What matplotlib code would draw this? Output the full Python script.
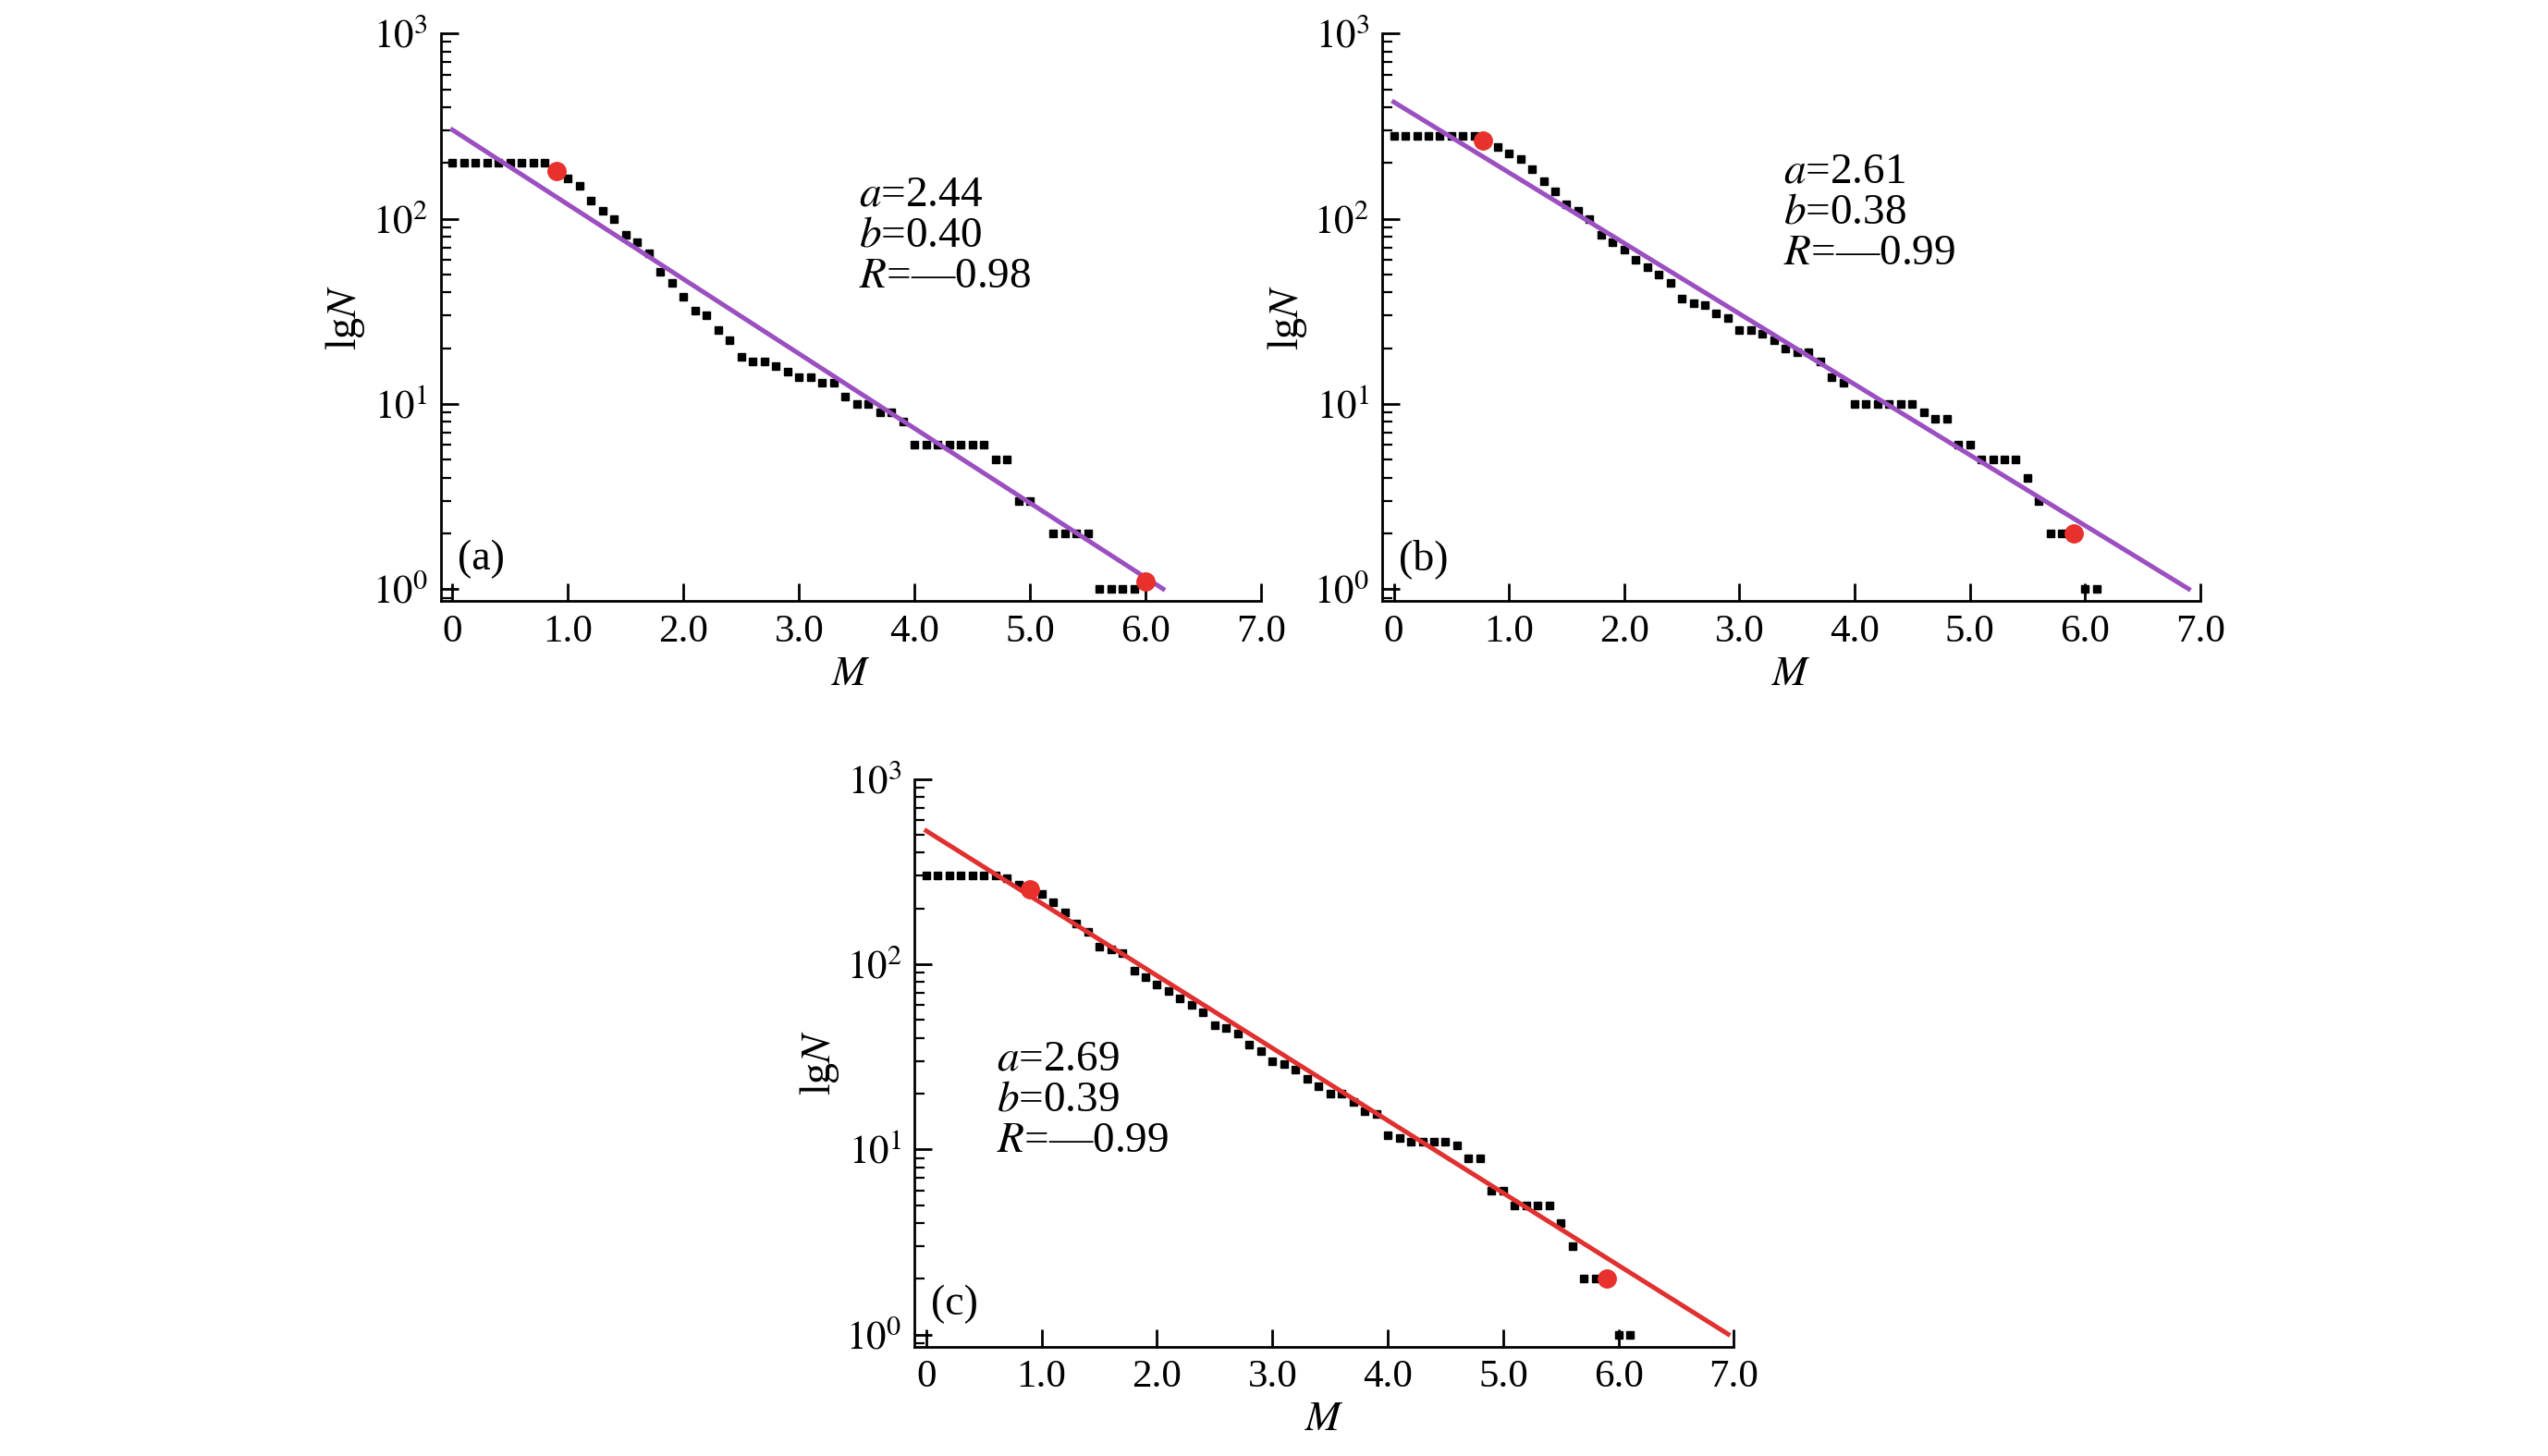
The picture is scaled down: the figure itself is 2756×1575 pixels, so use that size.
import numpy as np
import matplotlib
matplotlib.use("Agg")
import matplotlib.pyplot as plt
from matplotlib.ticker import LogLocator, NullFormatter, FixedLocator

plt.rcParams['font.family'] = ['Liberation Serif', 'DejaVu Serif']
plt.rcParams['mathtext.fontset'] = 'stix'

M_a = [round(0.1 * i, 1) for i in range(0, 51)] + [5.2, 5.3, 5.4, 5.5, 5.6, 5.7, 5.8, 5.9, 6.0]
N_a = [200]*9 + [180, 165, 150, 125, 110, 100, 82, 75, 65, 52, 45, 38, 32, 30, 25, 22,
       18, 17, 17, 16, 15, 14, 14, 13, 13, 11, 10, 10, 9, 9, 8,
       6, 6, 6, 6, 6, 6, 6, 5, 5, 3, 3] + [2, 2, 2, 2, 1, 1, 1, 1, 1.1]
red_a_M = [0.9, 6.0]; red_a_N = [180, 1.1]

M_b = [round(0.1 * i, 1) for i in range(0, 62)]
N_b = [280]*8 + [265, 245, 225, 210, 185, 160, 140, 120, 110, 100, 82, 75, 68, 60, 55, 50, 45,
       37, 35, 34, 31, 29, 25, 25, 24, 22, 20, 19, 19, 17, 14, 13,
       10, 10, 10, 10, 10, 10, 9, 8.3, 8.3, 6, 6, 5, 5, 5, 5, 4, 3, 2, 2, 2, 1, 1]
red_b_M = [0.77, 5.9]; red_b_N = [265, 2.0]

M_c = [round(0.1 * i, 1) for i in range(0, 62)]
N_c = [300]*7 + [290, 270, 255, 240, 215, 190, 165, 150, 125, 120, 115, 92, 85, 78, 72, 65, 60, 55,
       47, 45, 42, 37, 34, 30, 29, 27, 24, 22, 20, 20, 18, 16, 15.5,
       12, 11.5, 11, 11, 11, 11, 10.5, 9, 9, 6, 6, 5, 5, 5, 5, 4, 3, 2, 2, 2, 1, 1]
red_c_M = [0.9, 5.9]; red_c_N = [255, 2.0]

fit_intercept = [2.48, 2.63, 2.72]
fit_slope = [0.403, 0.381, 0.391]
fit_end = [6.15, 6.9, 6.95]
labels = ['(a)', '(b)', '(c)']
params = [('2.44', '0.40', '0.98'), ('2.61', '0.38', '0.99'), ('2.69', '0.39', '0.99')]
line_colors = ['#9B4FC0', '#9B4FC0', '#E0302F']

fig = plt.figure(figsize=(27.56, 15.75), dpi=100)
rects = [[0.173, 0.587, 0.322, 0.390], [0.5425, 0.587, 0.321, 0.390], [0.359, 0.075, 0.3215, 0.390]]
datas = [(M_a, N_a, red_a_M, red_a_N), (M_b, N_b, red_b_M, red_b_N), (M_c, N_c, red_c_M, red_c_N)]
text_pos = [(0.51, 0.75), (0.49, 0.79), (0.10, 0.54)]

for i in range(3):
    ax = fig.add_axes(rects[i])
    M, N, rM, rN = datas[i]
    ax.plot(M, N, 's', color='black', markersize=5.5, zorder=2)
    xs = np.array([0.0, fit_end[i]])
    ax.plot(xs, 10 ** (fit_intercept[i] - fit_slope[i] * xs), '-', color=line_colors[i], lw=3.6, zorder=3)
    ax.plot(rM, rN, 'o', color='#E8302C', markersize=14, zorder=4)
    ax.set_yscale('log')
    ax.set_ylim(0.86, 1000)
    ax.set_xlim(-0.1, 7.0)
    ax.xaxis.set_major_locator(FixedLocator([0, 1, 2, 3, 4, 5, 6, 7]))
    ax.set_xticklabels(['0', '1.0', '2.0', '3.0', '4.0', '5.0', '6.0', '7.0'])
    ax.yaxis.set_major_locator(FixedLocator([1, 10, 100, 1000]))
    ax.set_yticklabels([r'$10^0$', r'$10^1$', r'$10^2$', r'$10^3$'])
    ax.yaxis.set_minor_locator(LogLocator(base=10, subs=np.arange(2, 10)))
    ax.yaxis.set_minor_formatter(NullFormatter())
    for s in ['top', 'right']:
        ax.spines[s].set_visible(False)
    for s in ['left', 'bottom']:
        ax.spines[s].set_linewidth(2)
    ax.tick_params(which='major', direction='in', length=14, width=2, labelsize=31, pad=10)
    ax.tick_params(which='minor', direction='in', length=8, width=1.6)
    ax.set_xlabel('$M$', fontsize=33, labelpad=4)
    ax.set_ylabel(r'lg$N$', fontsize=33, labelpad=4)
    ax.text(0.02, 0.04, labels[i], transform=ax.transAxes, fontsize=33, ha='left', va='bottom')
    a, b, r = params[i]
    ax.text(text_pos[i][0], text_pos[i][1],
            f'$a$={a}\n$b$={b}\n$R$=\u2014{r}', transform=ax.transAxes,
            fontsize=34, ha='left', va='top', linespacing=1.05)

fig.savefig('out.png', dpi=100)
